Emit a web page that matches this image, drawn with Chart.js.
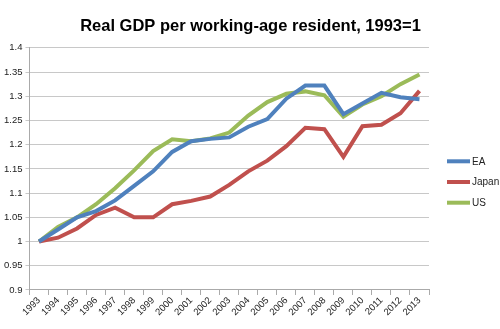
<!DOCTYPE html>
<html>
<head>
<meta charset="utf-8">
<script src="https://cdn.jsdelivr.net/npm/chart.js@4/dist/chart.umd.min.js"></script>
<style>
html,body{margin:0;padding:0;background:#fff;}
#wrap{width:500px;height:329px;}
</style>
</head>
<body>
<div id="wrap"><canvas id="c" width="500" height="329"></canvas></div>
<script>
const years = ['1993','1994','1995','1996','1997','1998','1999','2000','2001','2002','2003','2004','2005','2006','2007','2008','2009','2010','2011','2012','2013'];
const ea    = [1.0,1.025,1.05,1.063,1.085,1.115,1.145,1.185,1.207,1.212,1.215,1.237,1.253,1.295,1.322,1.322,1.263,1.285,1.307,1.298,1.294];
const japan = [1.0,1.008,1.027,1.055,1.07,1.05,1.05,1.077,1.084,1.093,1.117,1.145,1.167,1.197,1.235,1.232,1.175,1.238,1.241,1.265,1.311];
const us    = [1.0,1.03,1.05,1.077,1.11,1.147,1.187,1.211,1.207,1.213,1.225,1.26,1.288,1.305,1.31,1.302,1.258,1.283,1.3,1.325,1.345];
const seriesNames = ['EA','Japan','US'];
const titleText = 'Real GDP per working-age resident, 1993=1';

const colors = ['#4F81BD','#C0504D','#9BBB59'];
const FONT = "'Liberation Sans', Arial, sans-serif";

function ds(label, data, color){
  return {label, data, borderColor: color, backgroundColor: color, borderWidth: 4,
    pointRadius: 0, pointHoverRadius: 0, tension: 0, fill: false, borderJoinStyle: 'miter', yAxisID: 'y'};
}

// Right-side legend drawn from the datasets (Excel-like: short line + label)
const sideLegend = {
  id: 'sideLegend',
  afterDraw(chart) {
    const ctx = chart.ctx;
    const area = chart.chartArea;
    const x0 = area.right + 18, lineLen = 23, gap = 2, step = 20.7;
    const n = chart.data.datasets.length;
    const yMid = 182;
    ctx.save();
    ctx.font = "10px " + FONT;
    ctx.textBaseline = 'middle';
    ctx.textAlign = 'left';
    chart.data.datasets.forEach((d, i) => {
      const y = yMid + (i - (n - 1) / 2) * step;
      ctx.strokeStyle = d.borderColor;
      ctx.lineWidth = 4;
      ctx.lineCap = 'butt';
      ctx.beginPath();
      ctx.moveTo(x0, y);
      ctx.lineTo(x0 + lineLen, y);
      ctx.stroke();
      ctx.fillStyle = '#222';
      ctx.fillText(d.label, x0 + lineLen + gap, y + 0.5);
    });
    ctx.restore();
  }
};

new Chart(document.getElementById('c'), {
  type: 'line',
  data: {
    labels: years,
    datasets: [ds(seriesNames[0], ea, colors[0]), ds(seriesNames[1], japan, colors[1]), ds(seriesNames[2], us, colors[2])]
  },
  plugins: [sideLegend],
  options: {
    responsive: false,
    animation: false,
    layout: {padding: {left: 1, right: 0, top: 17, bottom: 11}},
    plugins: {
      title: {display: true, text: titleText, color: '#000',
        font: {family: FONT, size: 16.5, weight: 'bold'}, padding: {top: 0, bottom: 11}},
      legend: {display: false},
      tooltip: {enabled: false}
    },
    scales: {
      x: {
        offset: true,
        grid: {offset: true, drawOnChartArea: false, drawTicks: true, tickLength: 5, color: '#aaa'},
        border: {color: '#aaa'},
        ticks: {maxRotation: 45, minRotation: 45, autoSkip: false, color: '#222', padding: 0,
          font: {family: FONT, size: 9.5}}
      },
      y: {
        min: 0.9, max: 1.4,
        grid: {color: '#c8c8c8', tickLength: 4},
        border: {color: '#aaa'},
        ticks: {stepSize: 0.05, color: '#222', padding: 3, font: {family: FONT, size: 9.5},
          callback: (v) => String(Math.round(v*100)/100)}
      },
      legendSpace: {
        position: 'right', display: true,
        grid: {display: false, drawTicks: false},
        border: {display: false},
        ticks: {display: false},
        afterFit: (scale) => { scale.width = 71; }
      }
    }
  }
});
</script>
</body>
</html>
